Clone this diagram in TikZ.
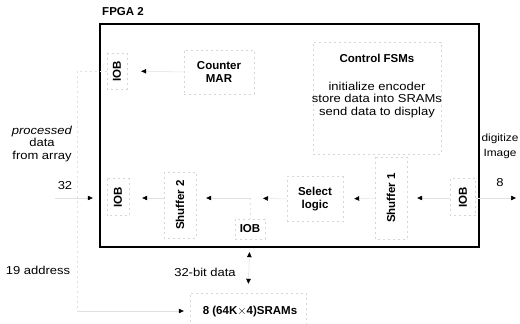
\documentclass[tikz,border=0pt]{standalone}
\usepackage{fontspec}
\setmainfont{Liberation Sans}
\newfontfamily\widesans[FakeStretch=1.13]{Liberation Sans}
\usetikzlibrary{arrows.meta,positioning}

\begin{document}
\begin{tikzpicture}[
  x=1pt, y=-1pt,
  font=\widesans\fontsize{11.5}{12.5}\selectfont,
  chip/.style={
    rectangle, draw=black, line width=1.1pt, inner sep=0pt,
    minimum width=379pt, minimum height=223pt
  },
  unit/.style={
    rectangle, draw=black!16, line width=0.4pt, dash pattern=on 2pt off 3pt,
    inner sep=1pt, align=center,
    font=\normalfont\fontsize{11.5}{12.5}\selectfont\bfseries
  },
  label/.style={align=center, inner sep=0pt},
  boldlabel/.style={align=center, inner sep=0pt, font=\normalfont\fontsize{11.5}{12.5}\selectfont\bfseries},
  flow/.style={-{Triangle[length=5pt,width=4.5pt,black]}, draw=black!12, line width=0.5pt},
  wire/.style={draw=black!12, line width=0.5pt, dash pattern=on 2pt off 3pt},
]

\useasboundingbox (0,0) rectangle (520,324);

% FPGA outline
\node[chip] (fpga) at (289.5,135.5) {};
\node[boldlabel] (title) at (123,12) {FPGA 2};

% top row
\node[unit, rotate=90, minimum width=36pt, minimum height=20pt] (iobtop) at (117,71) {IOB};
\node[unit, minimum width=70pt, minimum height=44pt] (ctr) at (219,72) {Counter\\MAR};
\node[unit, minimum width=128pt, minimum height=112pt] (fsm) at (377,98) {};
\node[boldlabel] (fsmtitle) at (377,58) {Control FSMs};
\node[label] (tasks) at (377,100) {initialize encoder\\store data into SRAMs\\send data to display};

% data path
\node[unit, rotate=90, minimum width=37pt, minimum height=22pt] (iobl) at (118,197) {IOB};
\node[unit, rotate=90, minimum width=66pt, minimum height=32pt] (shf2) at (180,205) {Shuffer 2};
\node[unit, minimum width=30pt, minimum height=20pt] (iobb) at (250,229) {IOB};
\node[unit, minimum width=56pt, minimum height=45pt] (sel) at (315,199) {Select\\logic};
\node[unit, rotate=90, minimum width=82pt, minimum height=32pt] (shf1) at (391,198) {Shuffer 1};
\node[unit, rotate=90, minimum width=37pt, minimum height=25pt] (iobr) at (463,197) {IOB};

% memory
\node[unit, minimum width=116pt, minimum height=31pt] (sram) at (248,308.5) {};
\node[boldlabel] (sramtxt) at (250,312) {8 (64K$\times$4)SRAMs};

% outside texts
\node[label] (proc) at (42,144) {\textit{processed}\\data\\from array};
\node[label] (w32) at (65,186) {32};
\node[label, font=\widesans\fontsize{10.5}{15}\selectfont] (dig) at (500,146) {digitize\\Image};
\node[label] (w8) at (500,183) {8};
\node[label] (addr) at (38,270) {19 address};
\node[label] (bus) at (205,272) {32-bit data};

\coordinate (inl) at (55,198);
\coordinate (outr) at (516,198);
\coordinate (jn) at (250,198);
\coordinate (abend) at (77,71);
\coordinate (abdown) at (77,311);

% connectors
\draw[flow, shorten >=14pt] (inl) -- (iobl.north |- inl);
\draw[flow, shorten >=13pt] (shf2.north |- jn) -- (iobl.south |- jn);
\draw[flow, shorten >=10pt] (jn) -- (shf2.south |- jn);
\draw[flow, shorten >=13pt] (sel.west) -- (jn);
\draw[wire] (jn) -- (iobb.north);
\draw[flow, shorten >=11pt] (shf1.north |- jn) -- (sel.east);
\draw[flow, shorten >=10pt] (iobr.north |- jn) -- (shf1.south |- jn);
\draw[flow] (iobr.south |- jn) -- (outr);
\draw[flow, shorten >=14pt] (ctr.west) -- (iobtop.south);
\draw[wire] (iobtop.north) -- (abend) -- (abdown);
\draw[flow, shorten >=6pt] (abdown) -- (sram.west |- abdown);
\draw[{Triangle[length=5pt,width=4.5pt,black]}-{Triangle[length=5pt,width=4.5pt,black]},
      draw=black!12, line width=0.5pt, shorten <=13pt, shorten >=9pt] (iobb.south) -- (sram.north);

\end{tikzpicture}
\end{document}
